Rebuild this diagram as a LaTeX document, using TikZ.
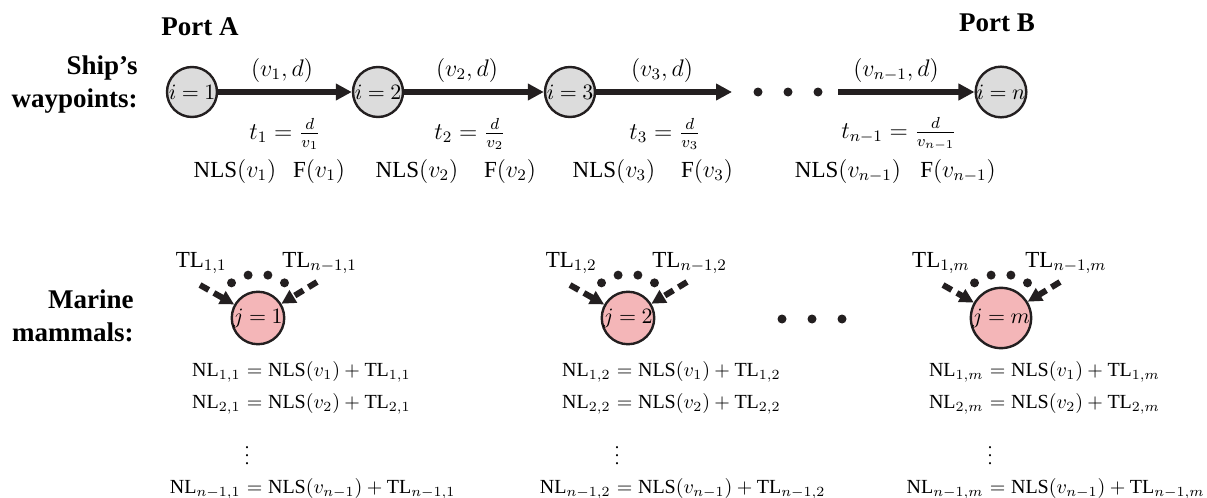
\documentclass[tikz,border=0pt]{standalone}
\usepackage{amsmath}
\usepackage{fontspec}
\setmainfont{Liberation Serif}
\usetikzlibrary{arrows.meta, calc}

\definecolor{wayfill}{HTML}{DCDCDC}
\definecolor{mamfill}{HTML}{F4B6B8}
\definecolor{ink}{HTML}{231F20}

\newcommand{\tightsp}{\thickmuskip=4.5mu\relax}
\newcommand{\eqsp}{\thickmuskip=5mu\relax\medmuskip=4mu\relax}

\tikzset{
  waypt/.style={circle, draw=ink, line width=1.2pt, fill=wayfill, minimum size=25pt, inner sep=0pt,
    font=\fontsize{10.5}{12}\selectfont},
  mammal/.style={waypt, fill=mamfill},
  leg/.style={draw=ink, line width=2.8pt, -{Triangle[length=8pt,width=8pt]}},
  tl arrow/.style={draw=ink, line width=3pt, dash pattern=on 5pt off 3pt, -{Triangle[length=7pt,width=7pt]}},
  lbl/.style={font=\fontsize{11.5}{13}\selectfont, inner sep=0pt},
  eq/.style={font=\fontsize{10}{12}\selectfont, inner sep=0pt},
  head/.style={font=\fontsize{13.5}{16.5}\selectfont\bfseries, align=right, inner sep=0pt},
}

\begin{document}
\begin{tikzpicture}[x=0.5pt, y=-0.5pt]
  \useasboundingbox (0,0) rectangle (1207,498);

  % headings
  \node[head, anchor=east] (ship) at (138,85) {Ship’s\\waypoints:};
  \node[head, anchor=east] (marine) at (134,316) {Marine\\mammals:};
  \node[head] (porta) at (200,27) {Port A};
  \node[head] (portb) at (997,23) {Port B};

  % ship's waypoints
  \node[waypt] (w1) at (192,92) {$\tightsp i=1$};
  \node[waypt] (w2) at (378,92) {$\tightsp i=2$};
  \node[waypt] (w3) at (570,92) {$\tightsp i=3$};
  \node[waypt] (wn) at (1001,92) {$\tightsp i=n$};
  \coordinate (e3) at (732,92);
  \coordinate (s4) at (838,92);

  \draw[leg] (w1) -- (w2);
  \draw[leg] (w2) -- (w3);
  \draw[leg] (w3) -- (e3);
  \draw[leg] (s4) -- (wn);

  \foreach \x in {758,788,818}
    \fill[ink] (\x,92) circle (4.5);

  % leg labels
  \foreach \mx/\k/\nx/\fx [count=\c] in {282/1/235/319, 467/2/417/510, 662/3/614/707, 896/{n-1}/848/958} {
    \node[lbl] (leg\c) at (\mx,70) {$(v_{\k},d)$};
    \node[lbl] (t\c) at (\mx+3,134) {$t_{\k} = \frac{d}{v_{\k}}$};
    \node[lbl] (nls\c) at (\nx,171) {$\mathrm{NLS}(v_{\k})$};
    \node[lbl] (f\c) at (\fx,171) {$\mathrm{F}(v_{\k})$};
  }

  % marine mammals
  \foreach \cx/\j/\nm in {258/1/m1, 628/2/m2, 1001/m/mm} {
    \node[mammal] (\nm) at (\cx,318) {$\tightsp j=\j$};
    \node[lbl, anchor=east] (\nm-tla) at (\cx-31,263) {$\mathrm{TL}_{1,\j}$};
    \node[lbl, anchor=west] (\nm-tlb) at (\cx+24,263) {$\mathrm{TL}_{n-1,\j}$};
    \coordinate (\nm-a) at (\cx-58,285);
    \coordinate (\nm-b) at (\cx+59,282);
    \draw[tl arrow] (\nm-a) -- (\nm);
    \draw[tl arrow] (\nm-b) -- (\nm);
    \foreach \a in {127,103,77,53}
      \fill[ink] (\nm) ++(-\a:44) circle (4.5);
    \foreach \r/\y [count=\q] in {1/376, 2/408, {n-1}/493} {
      \node[eq, anchor=base east] (\nm-l\q) at (\cx-17,\y) {$\mathrm{NL}_{\r,\j}$};
      \node[eq, anchor=base west] (\nm-r\q) at (\cx-17,\y) {$\eqsp{}= \mathrm{NLS}(v_{\r}) + \mathrm{TL}_{\r,\j}$};
    }
    \node[eq, font=\fontsize{9}{10}\selectfont] (\nm-vd) at (\cx-11,450) {$\vdots$};
  }
  \foreach \x in {782,812,842}
    \fill[ink] (\x,319) circle (4.5);
\end{tikzpicture}
\end{document}
